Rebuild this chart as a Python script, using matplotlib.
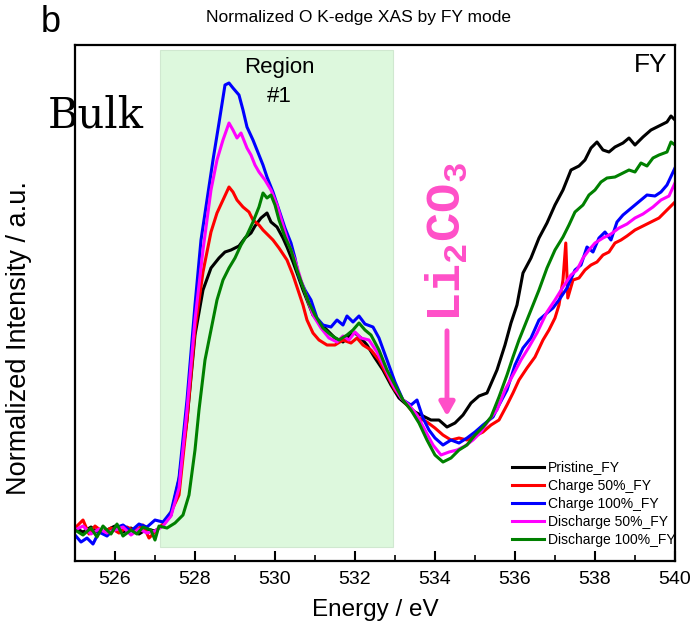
import matplotlib
matplotlib.use("Agg")
import matplotlib.pyplot as plt

plt.rcParams['font.family'] = ['Liberation Sans', 'DejaVu Sans']
plt.rcParams['mathtext.fontset'] = 'custom'
plt.rcParams['mathtext.rm'] = 'Liberation Mono:bold'

# energy (eV) and normalized intensity (a.u.)
e_pristine = [525.0, 525.2, 525.4, 525.6, 525.8, 526.0, 526.2, 526.4, 526.6, 526.8, 527.0, 527.2, 527.4, 527.6,
              527.8, 528.0, 528.2, 528.4, 528.6, 528.75, 528.9, 529.1, 529.25, 529.4, 529.5, 529.65, 529.8, 529.9,
              530.05, 530.2, 530.3, 530.45, 530.55, 530.7, 530.8, 530.95, 531.1, 531.3, 531.5, 531.7, 531.85, 532.0,
              532.15, 532.3, 532.5, 532.7, 532.9, 533.1, 533.3, 533.5, 533.7, 533.9, 534.1, 534.3, 534.5, 534.7,
              534.9, 535.1, 535.3, 535.55, 535.75, 535.9, 536.05, 536.2, 536.4, 536.6, 536.8, 537.0, 537.2, 537.4,
              537.6, 537.75, 537.9, 538.05, 538.2, 538.35, 538.5, 538.7, 538.85, 539.0, 539.2, 539.4, 539.6, 539.8,
              539.9, 540.0]
i_pristine = [0.33, 0.29, 0.34, 0.28, 0.31, 0.35, 0.29, 0.33, 0.27, 0.32, 0.30, 0.36, 0.46, 0.81,
              1.41, 2.26, 2.71, 2.93, 3.03, 3.09, 3.11, 3.15, 3.23, 3.28, 3.35, 3.43, 3.48, 3.39,
              3.34, 3.23, 3.14, 2.99, 2.88, 2.71, 2.61, 2.46, 2.39, 2.31, 2.23, 2.19, 2.25, 2.28,
              2.23, 2.16, 2.03, 1.91, 1.76, 1.63, 1.56, 1.49, 1.45, 1.41, 1.41, 1.34, 1.38, 1.46,
              1.58, 1.65, 1.68, 1.91, 2.16, 2.38, 2.56, 2.88, 3.03, 3.23, 3.38, 3.56, 3.71, 3.91,
              3.95, 4.01, 4.13, 4.19, 4.11, 4.09, 4.14, 4.18, 4.23, 4.16, 4.24, 4.31, 4.35, 4.39,
              4.45, 4.41]

e_ch50 = [525.0, 525.2, 525.35, 525.5, 525.7, 525.9, 526.1, 526.3, 526.5, 526.7, 526.85, 527.0, 527.2, 527.4,
          527.6, 527.8, 528.0, 528.2, 528.4, 528.55, 528.7, 528.85, 528.95, 529.05, 529.2, 529.35, 529.45, 529.6,
          529.7, 529.85, 529.95, 530.1, 530.3, 530.45, 530.55, 530.7, 530.8, 530.95, 531.1, 531.3, 531.5, 531.7,
          531.9, 532.05, 532.2, 532.4, 532.6, 532.8, 533.0, 533.2, 533.4, 533.6, 533.8, 534.0, 534.2, 534.4,
          534.6, 534.8, 535.0, 535.2, 535.4, 535.6, 535.8, 535.95, 536.1, 536.3, 536.5, 536.7, 536.85, 537.0,
          537.1, 537.2, 537.27, 537.32, 537.45, 537.6, 537.75, 537.9, 538.05, 538.2, 538.35, 538.5, 538.65, 538.8,
          539.0, 539.2, 539.4, 539.6, 539.8, 540.0]
i_ch50 = [0.33, 0.41, 0.27, 0.35, 0.29, 0.33, 0.28, 0.34, 0.30, 0.36, 0.23, 0.29, 0.37, 0.49,
          0.66, 1.41, 2.31, 2.89, 3.29, 3.48, 3.61, 3.74, 3.69, 3.61, 3.54, 3.49, 3.41, 3.36,
          3.31, 3.25, 3.21, 3.13, 3.01, 2.86, 2.74, 2.56, 2.41, 2.28, 2.21, 2.16, 2.16, 2.21,
          2.18, 2.23, 2.16, 2.11, 2.01, 1.86, 1.71, 1.61, 1.51, 1.43, 1.39, 1.33, 1.26, 1.21,
          1.23, 1.21, 1.25, 1.29, 1.36, 1.41, 1.56, 1.68, 1.81, 1.93, 2.04, 2.21, 2.31, 2.43,
          2.56, 2.81, 3.18, 2.63, 2.81, 2.83, 2.91, 2.96, 2.99, 3.06, 3.09, 3.18, 3.21, 3.25,
          3.31, 3.35, 3.39, 3.43, 3.51, 3.59]

e_ch100 = [525.0, 525.15, 525.3, 525.45, 525.6, 525.8, 526.0, 526.2, 526.4, 526.6, 526.8, 527.0, 527.2, 527.4,
           527.6, 527.8, 528.0, 528.15, 528.3, 528.45, 528.6, 528.75, 528.85, 528.95, 529.1, 529.2, 529.3, 529.45,
           529.55, 529.7, 529.8, 529.95, 530.1, 530.25, 530.4, 530.5, 530.6, 530.75, 530.9, 531.05, 531.2, 531.4,
           531.55, 531.7, 531.8, 531.95, 532.1, 532.25, 532.45, 532.6, 532.8, 533.0, 533.2, 533.4, 533.55, 533.7,
           533.85, 534.0, 534.2, 534.4, 534.6, 534.8, 535.0, 535.2, 535.45, 535.6, 535.8, 536.0, 536.2, 536.4,
           536.6, 536.8, 536.95, 537.1, 537.3, 537.5, 537.65, 537.8, 537.95, 538.1, 538.25, 538.4, 538.55, 538.7,
           538.85, 539.0, 539.15, 539.3, 539.5, 539.65, 539.8, 540.0]
i_ch100 = [0.26, 0.19, 0.23, 0.17, 0.29, 0.25, 0.33, 0.36, 0.30, 0.37, 0.34, 0.41, 0.39, 0.49,
           0.83, 1.61, 2.56, 3.21, 3.61, 4.01, 4.38, 4.76, 4.78, 4.73, 4.66, 4.51, 4.34, 4.21,
           4.11, 3.96, 3.84, 3.69, 3.51, 3.33, 3.18, 3.03, 2.84, 2.71, 2.61, 2.43, 2.36, 2.34,
           2.41, 2.36, 2.45, 2.39, 2.45, 2.37, 2.34, 2.23, 2.01, 1.79, 1.61, 1.56, 1.61, 1.43,
           1.31, 1.23, 1.16, 1.21, 1.18, 1.23, 1.29, 1.36, 1.44, 1.56, 1.71, 1.96, 2.13, 2.23,
           2.41, 2.48, 2.53, 2.61, 2.73, 2.91, 2.96, 3.14, 3.09, 3.23, 3.29, 3.21, 3.39, 3.46,
           3.51, 3.56, 3.61, 3.66, 3.65, 3.69, 3.76, 3.93]

e_dis50 = [525.0, 525.2, 525.4, 525.6, 525.8, 526.0, 526.2, 526.4, 526.6, 526.8, 527.0, 527.2, 527.4, 527.6,
           527.8, 528.0, 528.2, 528.4, 528.55, 528.7, 528.85, 528.95, 529.05, 529.15, 529.3, 529.4, 529.5, 529.6,
           529.75, 529.9, 530.05, 530.2, 530.35, 530.5, 530.65, 530.8, 530.95, 531.15, 531.35, 531.55, 531.7, 531.85,
           532.0, 532.15, 532.35, 532.55, 532.75, 532.95, 533.15, 533.35, 533.55, 533.75, 533.95, 534.15, 534.35,
           534.55, 534.75, 534.95, 535.15, 535.35, 535.55, 535.75, 535.95, 536.15, 536.35, 536.55, 536.8, 537.0,
           537.2, 537.4, 537.55, 537.7, 537.85, 538.0, 538.2, 538.4, 538.6, 538.8, 539.0, 539.2, 539.45, 539.65,
           539.85, 540.0]
i_dis50 = [0.31, 0.35, 0.27, 0.32, 0.28, 0.31, 0.34, 0.26, 0.32, 0.28, 0.30, 0.35, 0.45, 0.73,
           1.51, 2.41, 3.11, 3.71, 4.01, 4.21, 4.38, 4.31, 4.23, 4.28, 4.13, 4.06, 3.96, 3.89,
           3.81, 3.71, 3.56, 3.36, 3.16, 3.01, 2.81, 2.63, 2.46, 2.33, 2.23, 2.19, 2.25, 2.21,
           2.29, 2.23, 2.21, 2.09, 1.93, 1.76, 1.63, 1.56, 1.46, 1.31, 1.16, 1.06, 1.09,
           1.11, 1.15, 1.21, 1.29, 1.41, 1.51, 1.71, 1.86, 2.01, 2.14, 2.28, 2.49, 2.61,
           2.74, 2.86, 2.91, 3.03, 3.11, 3.18, 3.23, 3.27, 3.33, 3.37, 3.43, 3.47, 3.54, 3.61,
           3.65, 3.78]

e_dis100 = [525.0, 525.2, 525.4, 525.55, 525.7, 525.9, 526.05, 526.2, 526.4, 526.55, 526.7, 526.9, 527.0, 527.1,
            527.3, 527.5, 527.7, 527.85, 528.0, 528.1, 528.25, 528.4, 528.55, 528.7, 528.85, 529.0, 529.15, 529.3,
            529.45, 529.6, 529.7, 529.8, 529.9, 530.0, 530.1, 530.25, 530.4, 530.55, 530.7, 530.85, 531.0, 531.2,
            531.4, 531.6, 531.8, 531.95, 532.1, 532.25, 532.4, 532.6, 532.8, 533.0, 533.2, 533.4, 533.6, 533.8,
            534.0, 534.2, 534.4, 534.6, 534.8, 535.0, 535.2, 535.4, 535.6, 535.8, 535.95, 536.1, 536.25, 536.45,
            536.6, 536.8, 537.0, 537.2, 537.35, 537.5, 537.7, 537.85, 538.0, 538.15, 538.3, 538.5, 538.7, 538.85,
            539.0, 539.15, 539.3, 539.45, 539.6, 539.8, 539.9, 540.0]
i_dis100 = [0.31, 0.26, 0.33, 0.24, 0.35, 0.27, 0.37, 0.25, 0.31, 0.27, 0.34, 0.31, 0.21, 0.35,
            0.33, 0.38, 0.46, 0.66, 1.11, 1.51, 2.01, 2.31, 2.61, 2.81, 2.93, 3.03, 3.16, 3.26,
            3.39, 3.54, 3.68, 3.63, 3.66, 3.56, 3.41, 3.24, 3.11, 2.91, 2.74, 2.58, 2.46, 2.33,
            2.26, 2.21, 2.26, 2.31, 2.38, 2.31, 2.26, 2.11, 1.91, 1.76, 1.61, 1.51, 1.38, 1.21,
            1.06, 0.99, 1.03, 1.11, 1.16, 1.26, 1.34, 1.44, 1.64, 1.86, 2.04, 2.21, 2.36, 2.56,
            2.71, 2.93, 3.11, 3.24, 3.36, 3.49, 3.56, 3.66, 3.71, 3.79, 3.83, 3.84, 3.88, 3.91,
            3.89, 3.98, 3.95, 4.03, 4.06, 4.09, 4.19, 4.16]

labels = ['Pristine_FY', 'Charge 50%_FY', 'Charge 100%_FY', 'Discharge 50%_FY', 'Discharge 100%_FY']
colors = ['black', '#ff0000', '#0000ff', '#ff00ff', '#008000']

fig = plt.figure(figsize=(6.97, 6.32), dpi=100)
ax = fig.add_axes([0.1076, 0.1123, 0.8608, 0.8165])

# region #1 shading
ax.axvspan(527.12, 532.95, ymin=0.027, ymax=0.99, facecolor='#ddf8dd', edgecolor='#d0e8d0', lw=0.8, zorder=0)

series = [(e_pristine, i_pristine), (e_ch50, i_ch50), (e_ch100, i_ch100), (e_dis50, i_dis50), (e_dis100, i_dis100)]
for (e, y), lab, c in zip(series, labels, colors):
    ax.plot(e, y, color=c, lw=2.2, label=lab)

ax.set_xlim(525, 540)
ax.set_ylim(0, 5.16)
ax.set_xticks(range(526, 541, 2))
ax.set_xticks(range(525, 541, 1), minor=True)
ax.set_yticks([])
ax.tick_params(axis='x', which='major', direction='in', length=7, width=1.5, labelsize=14, pad=7)
ax.tick_params(axis='x', which='minor', direction='in', length=4, width=1.2)
for s in ax.spines.values():
    s.set_linewidth(1.6)

ax.set_xlabel('Energy / eV', fontsize=17.5, labelpad=8)
ax.set_ylabel('Normalized Intensity / a.u.', fontsize=19.5)
ax.yaxis.set_label_coords(-0.072, 0.432)

fig.text(0.514, 0.972, 'Normalized O K-edge XAS by FY mode', fontsize=12.5, ha='center', va='center')
fig.text(0.058, 0.965, 'b', fontsize=26, ha='left', va='center')
fig.text(0.068, 0.817, 'Bulk', fontsize=30, family='DejaVu Serif', ha='left', va='center')

ax.text(530.1, 4.79, 'Region\n#1', fontsize=16, ha='center', va='center', linespacing=1.55)
ax.text(539.8, 5.08, 'FY', fontsize=19, ha='right', va='top')

ax.text(534.3, 3.19, r'$\mathrm{Li_2CO_3}$', color='#ff4fc8', fontsize=35, rotation=90,
        ha='center', va='center')
ax.annotate('', xy=(534.3, 1.42), xytext=(534.3, 2.33),
            arrowprops=dict(arrowstyle='-|>,head_width=0.45,head_length=0.8', color='#ff4fc8', lw=3.5))

ax.legend(loc='lower left', bbox_to_anchor=(0.728, 0.027), frameon=False, fontsize=10,
          handlelength=2.3, handletextpad=0.3, labelspacing=0.3, borderpad=0, borderaxespad=0)

fig.savefig('out.png', dpi=100)
